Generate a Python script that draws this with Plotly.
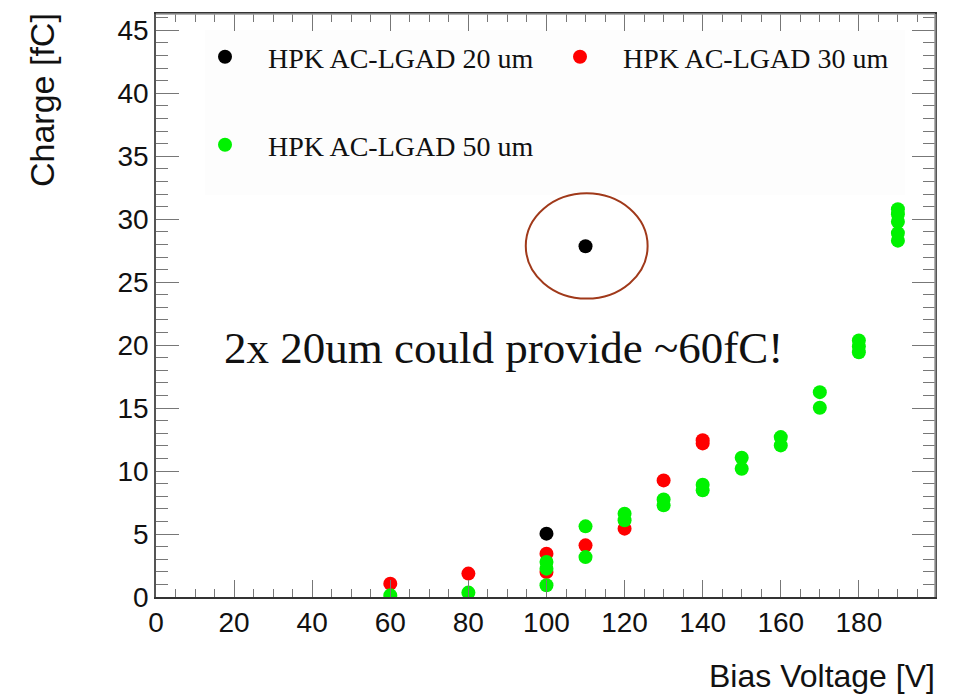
import plotly.graph_objects as go

# ---- data ----
x_20um = [100, 110]
y_20um = [5.03, 27.85]

x_30um = [60, 80, 100, 100, 110, 120, 130, 140, 140]
y_30um = [1.06, 1.86, 3.44, 1.98, 4.1, 5.43, 9.26, 12.2, 12.45]

x_50um = [60, 80, 100, 100, 100, 110, 110, 120, 120, 130, 130, 140, 140,
          150, 150, 160, 160, 170, 170, 180, 180, 180, 190, 190, 190, 190, 190]
y_50um = [0.13, 0.35, 2.78, 2.25, 0.93, 5.61, 3.17, 6.62, 6.09, 7.75, 7.28, 8.92, 8.47,
          11.06, 10.19, 12.7, 12.04, 16.27, 15.03, 20.37, 19.9, 19.44, 30.8, 30.4, 29.8, 28.9, 28.3]

names = ["HPK AC-LGAD 20 um", "HPK AC-LGAD 30 um", "HPK AC-LGAD 50 um"]
colors = ["#000000", "#ff0000", "#00f200"]

x_title = "Bias Voltage [V]"
y_title = "Charge [fC]"
note = "2x 20um could provide ~60fC!"

W, H = 958, 695
L, R, T, B = 156, 23, 14, 98

fig = go.Figure()
series = [(x_20um, y_20um), (x_30um, y_30um), (x_50um, y_50um)]
legends = ["legend", "legend2", "legend3"]
for (xs, ys), nm, c, lg in zip(series, names, colors, legends):
    fig.add_trace(go.Scatter(x=xs, y=ys, mode="markers", name=nm, legend=lg,
                             showlegend=True,
                             marker=dict(color=c, size=14, line=dict(width=0))))

def px2paper_x(px):
    return (px - L) / (W - L - R)

def px2paper_y(py):
    return 1 - (py - T) / (H - T - B)

legend_font = dict(family="Liberation Serif", size=28, color="#111")
leg_common = dict(bgcolor="rgba(0,0,0,0)", borderwidth=0, font=legend_font,
                  xanchor="left", yanchor="middle", itemwidth=76, visible=True)
fig.update_layout(
    showlegend=True,
    legend=dict(x=px2paper_x(182), y=px2paper_y(57), **leg_common),
    legend2=dict(x=px2paper_x(537), y=px2paper_y(57), **leg_common),
    legend3=dict(x=px2paper_x(182), y=px2paper_y(145), **leg_common),
)

tick_font = dict(family="Liberation Sans", size=28, color="#111")
fig.update_xaxes(range=[0, 199.5], dtick=20, tick0=0, ticks="inside", ticklen=17,
                 tickwidth=1, tickcolor="#777", showline=True, linecolor="#333",
                 linewidth=1.5, mirror="allticks", showgrid=False, zeroline=False,
                 tickfont=tick_font,
                 minor=dict(dtick=5, ticks="inside", ticklen=8, tickcolor="#777",
                            showgrid=False))
fig.update_yaxes(range=[0, 46.3], dtick=5, tick0=0, ticks="inside", ticklen=23,
                 tickwidth=1, tickcolor="#777", showline=True, linecolor="#555",
                 linewidth=1.5, mirror="allticks", showgrid=False, zeroline=False,
                 tickfont=tick_font,
                 minor=dict(dtick=1, ticks="inside", ticklen=12, tickcolor="#777",
                            showgrid=False))

fig.update_layout(
    width=W, height=H,
    margin=dict(l=L, r=R, t=T, b=B),
    paper_bgcolor="white", plot_bgcolor="white",
    shapes=[
        dict(type="rect", xref="paper", yref="paper",
             x0=px2paper_x(205), x1=px2paper_x(905), y0=px2paper_y(195), y1=px2paper_y(30),
             fillcolor="#fdfdfd", line=dict(width=0), layer="below"),
        dict(type="circle", xref="x", yref="y", x0=94.7, x1=125.9, y0=23.7, y1=32.06,
             line=dict(color="#a0391a", width=2)),
        dict(type="line", xref="paper", yref="paper", x0=0, x1=1, y0=1, y1=1,
             line=dict(color="#999", width=1.5)),
        dict(type="line", xref="paper", yref="paper", x0=1, x1=1, y0=0, y1=1,
             line=dict(color="#999", width=1.5)),
    ],
    annotations=[
        dict(text=note, xref="paper", yref="paper", x=px2paper_x(222), y=px2paper_y(348),
             xanchor="left", yanchor="middle", showarrow=False,
             font=dict(family="Liberation Serif", size=45, color="#111")),
        dict(text=y_title, xref="paper", yref="paper", x=px2paper_x(42), y=px2paper_y(11),
             xanchor="center", yanchor="top", textangle=-90, showarrow=False,
             font=dict(family="Liberation Sans", size=34, color="#111")),
        dict(text=x_title, xref="paper", yref="paper", x=px2paper_x(937), y=px2paper_y(696),
             xanchor="right", yanchor="bottom", showarrow=False,
             font=dict(family="Liberation Sans", size=32, color="#111")),
    ],
)

fig.write_html("out.html", config={"displayModeBar": False},
               post_script="document.body.style.margin='0';")
